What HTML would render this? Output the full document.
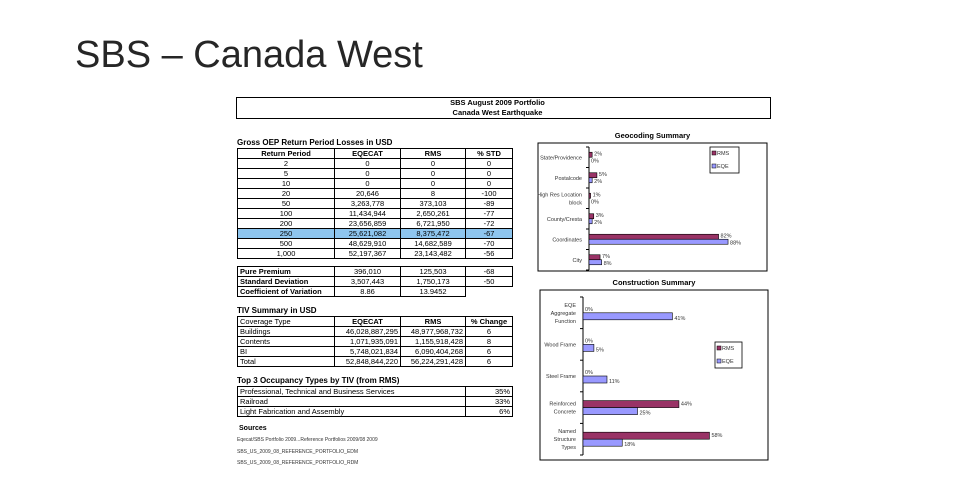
<!DOCTYPE html>
<html><head><meta charset="utf-8">
<style>
body{margin:0;background:#fff;}
#page{position:relative;width:980px;height:500px;overflow:hidden;background:#fff;font-family:"Liberation Sans",sans-serif;color:#000;}
.t{position:absolute;border-collapse:collapse;font-size:7.5px;table-layout:fixed;}
.t td{border:1px solid #000;padding:0 2px;height:9px;line-height:9px;text-align:center;white-space:nowrap;overflow:hidden;}
.lbl{position:absolute;font-size:8px;font-weight:bold;white-space:nowrap;}
.l{text-align:left!important;}
.r{text-align:right!important;}
.b{font-weight:bold;}
.src{position:absolute;font-size:5px;color:#333;white-space:nowrap;}
</style></head>
<body>
<div id="page">
<div style="position:absolute;left:75px;top:34px;font-size:38px;color:#262626;white-space:nowrap;">SBS – Canada West</div>

<div style="position:absolute;left:236px;top:97px;width:533px;height:20px;border:1px solid #000;text-align:center;font-size:7.5px;font-weight:bold;line-height:9.5px;padding-left:0px;">
<div style="margin-left:-12px">SBS August 2009 Portfolio</div><div style="margin-left:-12px">Canada West Earthquake</div></div>

<div class="lbl" style="left:237px;top:138px;">Gross OEP Return Period Losses in USD</div>
<table class="t" style="left:237px;top:148px;width:275px;">
<colgroup><col style="width:97px"><col style="width:66px"><col style="width:65px"><col style="width:47px"></colgroup>
<tr class="b"><td>Return Period</td><td>EQECAT</td><td>RMS</td><td>% STD</td></tr>
<tr><td>2</td><td>0</td><td>0</td><td>0</td></tr>
<tr><td>5</td><td>0</td><td>0</td><td>0</td></tr>
<tr><td>10</td><td>0</td><td>0</td><td>0</td></tr>
<tr><td>20</td><td>20,646</td><td>8</td><td>-100</td></tr>
<tr><td>50</td><td>3,263,778</td><td>373,103</td><td>-89</td></tr>
<tr><td>100</td><td>11,434,944</td><td>2,650,261</td><td>-77</td></tr>
<tr><td>200</td><td>23,656,859</td><td>6,721,950</td><td>-72</td></tr>
<tr style="background:#8ec5ee"><td>250</td><td>25,621,082</td><td>8,375,472</td><td>-67</td></tr>
<tr><td>500</td><td>48,629,910</td><td>14,682,589</td><td>-70</td></tr>
<tr><td>1,000</td><td>52,197,367</td><td>23,143,482</td><td>-56</td></tr>
</table>

<table class="t" style="left:237px;top:266px;width:275px;">
<colgroup><col style="width:97px"><col style="width:66px"><col style="width:65px"><col style="width:47px"></colgroup>
<tr><td class="l b">Pure Premium</td><td>396,010</td><td>125,503</td><td>-68</td></tr>
<tr><td class="l b">Standard Deviation</td><td>3,507,443</td><td>1,750,173</td><td>-50</td></tr>
<tr><td class="l b">Coefficient of Variation</td><td>8.86</td><td>13.9452</td><td style="border:none"></td></tr>
</table>

<div class="lbl" style="left:237px;top:306px;">TIV Summary in USD</div>
<table class="t" style="left:237px;top:316px;width:275px;">
<colgroup><col style="width:97px"><col style="width:66px"><col style="width:65px"><col style="width:47px"></colgroup>
<tr><td class="l">Coverage Type</td><td class="b">EQECAT</td><td class="b">RMS</td><td class="b">% Change</td></tr>
<tr><td class="l">Buildings</td><td class="r">46,028,887,295</td><td class="r">48,977,968,732</td><td>6</td></tr>
<tr><td class="l">Contents</td><td class="r">1,071,935,091</td><td class="r">1,155,918,428</td><td>8</td></tr>
<tr><td class="l">BI</td><td class="r">5,748,021,834</td><td class="r">6,090,404,268</td><td>6</td></tr>
<tr><td class="l">Total</td><td class="r">52,848,844,220</td><td class="r">56,224,291,428</td><td>6</td></tr>
</table>

<div class="lbl" style="left:237px;top:376px;">Top 3 Occupancy Types by TIV (from RMS)</div>
<table class="t" style="left:237px;top:386px;width:275px;">
<colgroup><col style="width:228px"><col style="width:47px"></colgroup>
<tr><td class="l">Professional, Technical and Business Services</td><td class="r">35%</td></tr>
<tr><td class="l">Railroad</td><td class="r">33%</td></tr>
<tr><td class="l">Light Fabrication and Assembly</td><td class="r">6%</td></tr>
</table>

<div class="lbl" style="left:239px;top:425px;font-size:7px;">Sources</div>
<div class="src" style="left:237px;top:437px;">Eqecat/SBS Portfolio 2009...Reference Portfolios 2009/08 2009</div>
<div class="src" style="left:237px;top:449px;">SBS_US_2009_08_REFERENCE_PORTFOLIO_EDM</div>
<div class="src" style="left:237px;top:460px;">SBS_US_2009_08_REFERENCE_PORTFOLIO_RDM</div>

<svg id="charts" width="980" height="500" style="position:absolute;left:0;top:0;"></svg>
</div>

<script>
const geoCategories = ['State/Providence','Postalcode','High Res Location|block','County/Cresta','Coordinates','City'];
const geoRms = [2,5,1,3,82,7];
const geoEqe = [0,2,0,2,88,8];
const conCategories = ['EQE|Aggregate|Function','Wood Frame','Steel Frame','Reinforced|Concrete','Named|Structure|Types'];
const conRms = [0,0,0,44,58];
const conEqe = [41,5,11,25,18];
const seriesNames = ['RMS','EQE'];

const NS='http://www.w3.org/2000/svg';
const svg=document.getElementById('charts');
function mk(tag,attrs,parent){const e=document.createElementNS(NS,tag);for(const k in attrs)e.setAttribute(k,attrs[k]);(parent||svg).appendChild(e);return e;}

function chart(o){
  const g=mk('g',{});
  
  
  const box=mk('rect',{x:o.bx,y:o.by,width:o.bw,height:o.bh,fill:'#fff',stroke:'#000','stroke-width':1},g);
  
  
  const title=mk('text',{x:o.bx+o.bw/2,y:o.by-5,'text-anchor':'middle','font-size':7.5,'font-weight':'bold','font-family':'Liberation Sans, sans-serif'},g);
  title.textContent=o.title;
  
  
  const n=o.cats.length, band=(o.y1-o.y0)/n;
  const xs=v=>o.ax+v*o.scale;
  const ys=i=>o.y0+i*band;
  const axis=mk('line',{x1:o.ax,y1:o.y0,x2:o.ax,y2:o.y1,stroke:'#000','stroke-width':1},g);
  
  
  for(let i=0;i<=n;i++){mk('line',{x1:o.ax-3,y1:ys(i),x2:o.ax,y2:ys(i),stroke:'#000','stroke-width':1},g);}
  o.cats.forEach((c,i)=>{
    const mid=ys(i)+band/2;
    const lines=c.split('|');
    lines.forEach((ln,j)=>{
      const t=mk('text',{x:o.ax-7,y:mid+2+(j-(lines.length-1)/2)*o.lh,'text-anchor':'end','font-size':5.5,fill:'#333','font-family':'Liberation Sans, sans-serif'},g);
      t.textContent=ln;
      
      
    });
    [[o.rms[i],'#993366',-o.bh2],[o.eqe[i],'#9999ff',0]].forEach(([v,col,off],k)=>{
      const y=mid+off;
      const r=mk('rect',{x:o.ax,y:y,width:Math.max(0.01,xs(v)-o.ax),height:o.bh2,fill:col,stroke:'#000','stroke-width':0.6},g);
      
      
      const t=mk('text',{x:xs(v)+2,y:y+o.bh2-1+(k===0?-1:1),'font-size':5.5,fill:'#333','font-family':'Liberation Sans, sans-serif'},g);
      t.textContent=v+'%';
      
      
    });
  });
  const lg=mk('g',{},g);
  
  
  mk('rect',{x:o.lx,y:o.ly,width:o.lw,height:o.lhgt,fill:'#fff',stroke:'#000','stroke-width':0.8},lg);
  ['#993366','#9999ff'].forEach((col,k)=>{
    const yy=o.ly+7+k*(o.lhgt/2);
    mk('rect',{x:o.lx+2,y:yy-3,width:4,height:4,fill:col,stroke:'#000','stroke-width':0.5},lg);
    const t=mk('text',{x:o.lx+7,y:yy+1,'font-size':5.5,fill:'#333','font-family':'Liberation Sans, sans-serif'},lg);
    t.textContent=seriesNames[k];
    
    
  });
}

chart({name:'geocoding-chart',title:'Geocoding Summary',bx:538,by:143,bw:229,bh:128,ax:589,y0:147,y1:270,scale:1.58,
  cats:geoCategories,rms:geoRms,eqe:geoEqe,bh2:5,lh:8,lx:710,ly:147,lw:29,lhgt:26});
chart({name:'construction-chart',title:'Construction Summary',bx:540,by:290,bw:228,bh:170,ax:583,y0:297,y1:455,scale:2.18,
  cats:conCategories,rms:conRms,eqe:conEqe,bh2:7,lh:8,lx:715,ly:342,lw:27,lhgt:26});
</script>
</body></html>
